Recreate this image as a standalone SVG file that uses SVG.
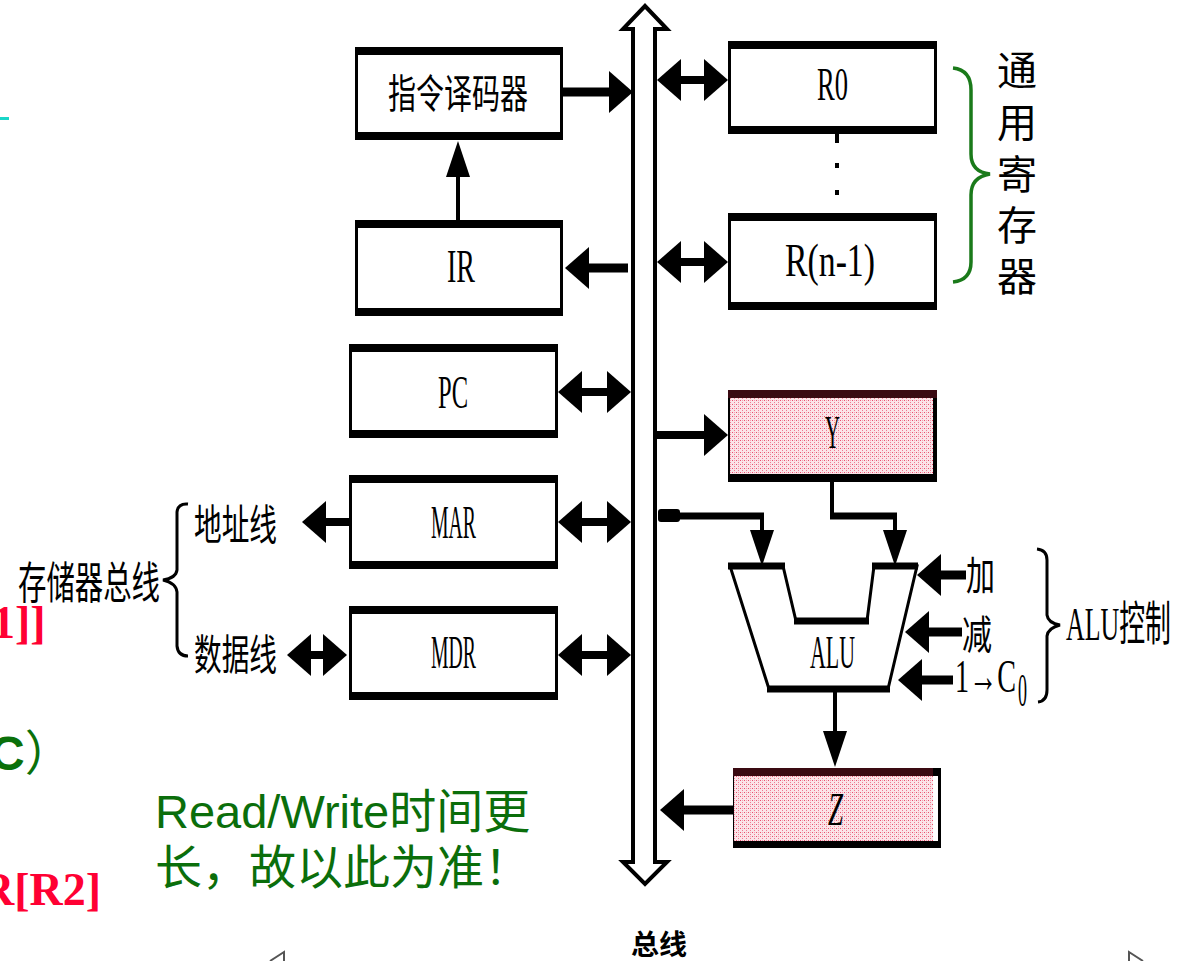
<svg xmlns="http://www.w3.org/2000/svg" width="1185" height="961" viewBox="0 0 1185 961">
<style>
.frame{fill:#000}
.inner{fill:#fff}
.lbl{font-family:'Liberation Serif','Noto Sans CJK SC',serif;font-size:47px;fill:#000}
.cjk{font-family:'Noto Sans CJK SC',sans-serif;fill:#000}
.shaft{stroke:#000;fill:none}
.head{fill:#000}
.green{font-family:'Liberation Sans','Noto Sans CJK SC',sans-serif;font-size:47px;fill:#0b6e0b}
.red{font-family:'Liberation Serif',serif;font-weight:bold;font-size:46px;fill:#ff0033}
</style>
<defs>
<path id="hb" d="M0,0 L-24,-21 L-24,21 Z"/>
<path id="ht" d="M0,0 L-36,-12 L-36,12 Z"/>
<pattern id="pink" width="4" height="4" patternUnits="userSpaceOnUse">
<rect width="4" height="4" fill="#fbe4e8"/>
<rect width="1" height="1" fill="#e8506e"/>
<rect x="2" y="2" width="1" height="1" fill="#f07a92"/>
<rect x="2" y="0" width="1" height="1" fill="#f4a0b0"/>
</pattern>
</defs>

<!-- stray slide fragments -->
<rect x="0" y="117" width="9" height="3" fill="#1ad6c8"/>
<text class="red" x="-8" y="638">1]]</text>
<text x="-10" y="770" style="font-family:'Liberation Sans','Noto Sans CJK SC',sans-serif;font-size:48px;fill:#0a700a"><tspan font-weight="bold">C</tspan><tspan font-family="'Noto Sans CJK SC',sans-serif">）</tspan></text>
<text class="red" x="-19" y="905">R[R2]</text>
<text class="green" x="155" y="828">Read/Write时间更</text>
<text class="green" x="155" y="884">长，故以此为准！</text>
<polyline points="270,961 284,952 284,961" fill="none" stroke="#555" stroke-width="2"/>
<polyline points="1129,961 1129,952 1143,961" fill="none" stroke="#555" stroke-width="2"/>

<!-- bus -->
<g id="bus">
<path d="M633,29 H623 L645,6 L667,29 H655 V862 H667 L645,884 L623,862 H633 Z" fill="#fff" stroke="#000" stroke-width="4" stroke-linejoin="miter"/>
<text x="631" y="955" style="font-family:'Noto Sans CJK SC',sans-serif;font-weight:bold;font-size:28px;fill:#000">总线</text>
</g>

<g id="decoder">
<rect class="frame" x="355" y="47" width="208" height="93"/>
<rect class="inner" x="358" y="55" width="202" height="77"/>
<text class="cjk" x="388" y="91" font-size="40" dominant-baseline="central" textLength="140" lengthAdjust="spacingAndGlyphs">指令译码器</text>
</g>
<g id="IR">
<rect class="frame" x="355" y="220" width="208" height="96"/>
<rect class="inner" x="358" y="228" width="202" height="80"/>
<text class="lbl" x="447" y="282" textLength="28" lengthAdjust="spacingAndGlyphs">IR</text>
</g>
<g id="R0">
<rect class="frame" x="728" y="41" width="209" height="93"/>
<rect class="inner" x="731" y="49" width="203" height="77"/>
<text class="lbl" x="817" y="100" textLength="31" lengthAdjust="spacingAndGlyphs">R0</text>
</g>
<g id="dots">
<rect x="835" y="134" width="4" height="9" fill="#000"/>
<rect x="835" y="163" width="4" height="5" fill="#000"/>
<rect x="835" y="190" width="4" height="5" fill="#000"/>
</g>
<g id="Rn1">
<rect class="frame" x="728" y="213" width="209" height="97"/>
<rect class="inner" x="731" y="221" width="203" height="81"/>
<text class="lbl" x="785" y="276" textLength="90" lengthAdjust="spacingAndGlyphs">R(n-1)</text>
</g>
<g id="gpr-label">
<path d="M953,68 Q971,70 971,90 V154 Q971,172 990,174 Q971,177 971,195 V262 Q971,280 953,282" fill="none" stroke="#1a7a1a" stroke-width="3.5"/>
<text class="cjk" x="1017" y="68" font-size="40" text-anchor="middle" dominant-baseline="central">通</text>
<text class="cjk" x="1017" y="120" font-size="40" text-anchor="middle" dominant-baseline="central">用</text>
<text class="cjk" x="1017" y="172" font-size="40" text-anchor="middle" dominant-baseline="central">寄</text>
<text class="cjk" x="1017" y="223" font-size="40" text-anchor="middle" dominant-baseline="central">存</text>
<text class="cjk" x="1017" y="274" font-size="40" text-anchor="middle" dominant-baseline="central">器</text>
</g>
<g id="PC">
<rect class="frame" x="349" y="344" width="209" height="94"/>
<rect class="inner" x="352" y="352" width="203" height="78"/>
<text class="lbl" x="438" y="408" textLength="30" lengthAdjust="spacingAndGlyphs">PC</text>
</g>
<g id="MAR">
<rect class="frame" x="349" y="475" width="209" height="94"/>
<rect class="inner" x="352" y="483" width="203" height="78"/>
<text class="lbl" x="431" y="538" textLength="45" lengthAdjust="spacingAndGlyphs">MAR</text>
</g>
<g id="MDR">
<rect class="frame" x="349" y="606" width="209" height="94"/>
<rect class="inner" x="352" y="614" width="203" height="78"/>
<text class="lbl" x="431" y="668" textLength="45" lengthAdjust="spacingAndGlyphs">MDR</text>
</g>
<g id="membus-label">
<path d="M188,504 Q178,503 177,512 V570 Q176,578 163,580 Q176,583 177,592 V646 Q178,656 188,656" fill="none" stroke="#000" stroke-width="3"/>
<text class="cjk" x="194" y="521" font-size="42" dominant-baseline="central" textLength="83" lengthAdjust="spacingAndGlyphs">地址线</text>
<text class="cjk" x="194" y="651" font-size="42" dominant-baseline="central" textLength="83" lengthAdjust="spacingAndGlyphs">数据线</text>
<text class="cjk" x="18" y="580" font-size="44" dominant-baseline="central" textLength="142" lengthAdjust="spacingAndGlyphs">存储器总线</text>
</g>
<g id="Y">
<rect x="728" y="390" width="209" height="92" fill="#000"/>
<rect x="730" y="398" width="203" height="76" fill="url(#pink)"/>
<rect x="728" y="390" width="209" height="8" fill="#3a0a12"/>
<text class="lbl" x="825" y="448" textLength="15" lengthAdjust="spacingAndGlyphs">Y</text>
</g>
<g id="ALU">
<polygon points="730,566 783,566 796,621 867,621 874,566 917,566 888,689 769,689" fill="#fff" stroke="#000" stroke-width="3"/>
<path d="M728,566 H785 M794,621 H869 M872,566 H918 M767,689 H890" stroke="#000" stroke-width="7"/>
<text class="lbl" x="810" y="668" textLength="45" lengthAdjust="spacingAndGlyphs">ALU</text>
</g>
<g id="Z">
<rect x="733" y="768" width="208" height="80" fill="#000"/>
<rect x="736" y="776" width="202" height="65" fill="#fff"/>
<rect x="734" y="776" width="199" height="65" fill="url(#pink)"/>
<rect x="733" y="768" width="200" height="8" fill="#3a0a12"/>
<text class="lbl" x="828" y="825" font-style="italic" textLength="15" lengthAdjust="spacingAndGlyphs">Z</text>
</g>
<g id="alu-control">
<text class="cjk" x="966" y="573" font-size="40" dominant-baseline="central" textLength="29" lengthAdjust="spacingAndGlyphs">加</text>
<text class="cjk" x="962" y="632" font-size="40" dominant-baseline="central" textLength="30" lengthAdjust="spacingAndGlyphs">减</text>
<text class="lbl" x="955" y="692" font-size="44" textLength="61" lengthAdjust="spacingAndGlyphs">1→C</text>
<text class="lbl" x="1018" y="706" font-size="26" textLength="9" lengthAdjust="spacingAndGlyphs">0</text>
<path d="M1037,549 Q1047,550 1047,560 V615 Q1048,623 1060,625 Q1048,628 1047,636 V690 Q1047,701 1038,702" fill="none" stroke="#000" stroke-width="3"/>
<text class="lbl" x="1066" y="640" font-size="44" textLength="105" lengthAdjust="spacingAndGlyphs">ALU控制</text>
</g>

<g id="connectors">
<line class="shaft" x1="563" y1="92" x2="612" y2="92" stroke-width="9"/>
<use href="#hb" class="head" transform="translate(633,92)"/>
<line class="shaft" x1="458" y1="222" x2="458" y2="170" stroke-width="4"/>
<use href="#ht" class="head" transform="translate(458,141) rotate(-90)"/>
<line class="shaft" x1="628" y1="268" x2="585" y2="268" stroke-width="9"/>
<use href="#hb" class="head" transform="translate(565,268) rotate(180)"/>
<line class="shaft" x1="675" y1="80" x2="710" y2="80" stroke-width="8"/>
<use href="#hb" class="head" transform="translate(657,80) rotate(180)"/>
<use href="#hb" class="head" transform="translate(728,80)"/>
<line class="shaft" x1="675" y1="262" x2="710" y2="262" stroke-width="8"/>
<use href="#hb" class="head" transform="translate(657,262) rotate(180)"/>
<use href="#hb" class="head" transform="translate(728,262)"/>
<line class="shaft" x1="575" y1="392" x2="612" y2="392" stroke-width="8"/>
<use href="#hb" class="head" transform="translate(558,392) rotate(180)"/>
<use href="#hb" class="head" transform="translate(631,392)"/>
<line class="shaft" x1="575" y1="522" x2="612" y2="522" stroke-width="8"/>
<use href="#hb" class="head" transform="translate(558,522) rotate(180)"/>
<use href="#hb" class="head" transform="translate(631,522)"/>
<line class="shaft" x1="575" y1="655" x2="612" y2="655" stroke-width="8"/>
<use href="#hb" class="head" transform="translate(558,655) rotate(180)"/>
<use href="#hb" class="head" transform="translate(631,655)"/>
<line class="shaft" x1="350" y1="522" x2="320" y2="522" stroke-width="8"/>
<use href="#hb" class="head" transform="translate(302,522) rotate(180)"/>
<line class="shaft" x1="305" y1="655" x2="330" y2="655" stroke-width="8"/>
<use href="#hb" class="head" transform="translate(287,655) rotate(180)"/>
<use href="#hb" class="head" transform="translate(347,655)"/>
<line class="shaft" x1="657" y1="435" x2="708" y2="435" stroke-width="8"/>
<use href="#hb" class="head" transform="translate(728,435)"/>
<rect x="658" y="509" width="22" height="13" rx="3" fill="#000"/>
<line class="shaft" x1="670" y1="516" x2="764" y2="516" stroke-width="7"/>
<line class="shaft" x1="762" y1="516" x2="762" y2="535" stroke-width="4"/>
<use href="#ht" class="head" transform="translate(762,566) rotate(90)"/>
<line class="shaft" x1="832" y1="482" x2="832" y2="519" stroke-width="4"/>
<line class="shaft" x1="830" y1="516" x2="897" y2="516" stroke-width="7"/>
<line class="shaft" x1="895" y1="516" x2="895" y2="535" stroke-width="4"/>
<use href="#ht" class="head" transform="translate(895,566) rotate(90)"/>
<line class="shaft" x1="835" y1="690" x2="835" y2="735" stroke-width="4"/>
<use href="#ht" class="head" transform="translate(835,767) rotate(90)"/>
<line class="shaft" x1="733" y1="810" x2="682" y2="810" stroke-width="9"/>
<use href="#hb" class="head" transform="translate(660,810) rotate(180)"/>
<line class="shaft" x1="966" y1="575" x2="935" y2="575" stroke-width="9"/>
<use href="#hb" class="head" transform="translate(917,575) rotate(180)"/>
<line class="shaft" x1="962" y1="632" x2="925" y2="632" stroke-width="9"/>
<use href="#hb" class="head" transform="translate(905,632) rotate(180)"/>
<line class="shaft" x1="953" y1="680" x2="918" y2="680" stroke-width="9"/>
<use href="#hb" class="head" transform="translate(898,680) rotate(180)"/>
</g>
</svg>
